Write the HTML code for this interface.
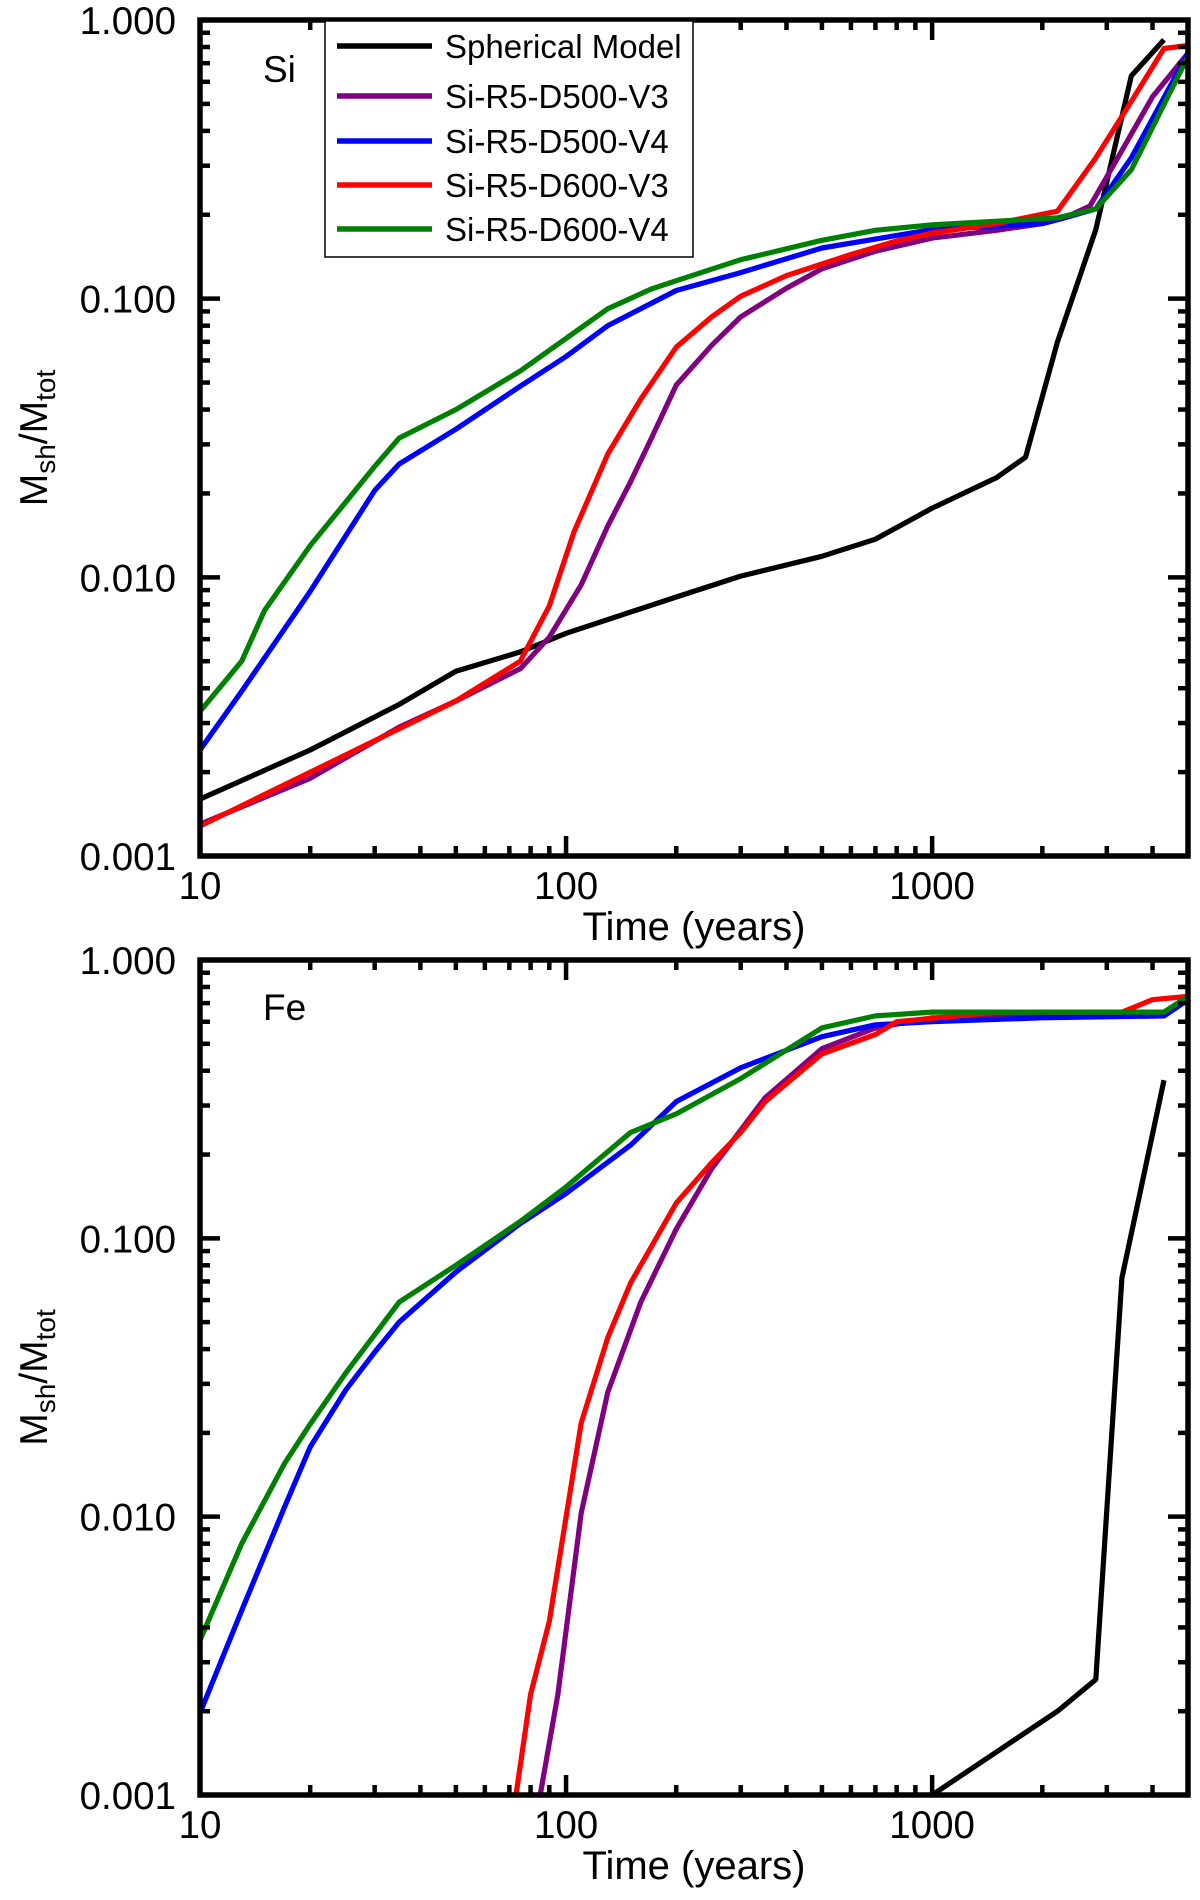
<!DOCTYPE html>
<html><head><meta charset="utf-8"><style>
html,body{margin:0;padding:0;background:#fff;}
svg{display:block;font-family:"Liberation Sans",sans-serif;}
</style></head><body>
<svg id="fig" width="1200" height="1900" viewBox="0 0 1200 1900" xmlns="http://www.w3.org/2000/svg">
<defs>
<clipPath id="clipTop"><rect x="200" y="20" width="988" height="836"/></clipPath>
<clipPath id="clipBot"><rect x="200" y="960" width="988" height="835"/></clipPath>
</defs>
<g id="top"></g>
<g id="bot"></g>
</svg>
<script>
const seriesNames = ["Spherical Model","Si-R5-D500-V3","Si-R5-D500-V4","Si-R5-D600-V3","Si-R5-D600-V4"];
const seriesColors = ["#000000","#800080","#0000ff","#ff0000","#008000"];
const yTickLabels = ["1.000","0.100","0.010","0.001"];
const yTickValues = [1,0.1,0.01,0.001];
const xTickLabels = ["10","100","1000"];
const xTickValues = [10,100,1000];

// Si panel data
const siSphT = [10,20,35,50,75,100,200,300,500,700,1000,1500,1800,2200,2800,3500,4300];
const siSphV = [0.0016,0.0024,0.0035,0.0046,0.0054,0.0063,0.0085,0.0101,0.0119,0.0137,0.0177,0.0228,0.027,0.070,0.177,0.63,0.85];
const siP3T = [10,20,35,50,75,90,110,130,150,170,200,250,300,400,500,700,1000,1500,2000,2300,2700,3300,4000,5000];
const siP3V = [0.0013,0.0019,0.0029,0.0036,0.0047,0.0061,0.0094,0.0153,0.022,0.031,0.049,0.068,0.086,0.109,0.128,0.148,0.165,0.176,0.186,0.195,0.215,0.34,0.53,0.76];
const siB4T = [10,13,20,30,35,50,75,100,130,200,300,500,1000,2000,2300,2800,3500,5000];
const siB4V = [0.0024,0.0039,0.0089,0.0205,0.0255,0.034,0.0485,0.062,0.08,0.107,0.124,0.152,0.177,0.186,0.195,0.21,0.32,0.76];
const siR3T = [10,50,75,90,105,130,160,200,250,300,400,600,800,1000,1500,2200,2800,3500,4300,5000];
const siR3V = [0.00128,0.0036,0.005,0.0079,0.0145,0.0277,0.0436,0.067,0.086,0.102,0.121,0.144,0.161,0.172,0.186,0.206,0.32,0.51,0.79,0.81];
const siG4T = [10,13,15,20,25,30,35,50,75,100,130,170,200,300,500,700,1000,2200,2800,3500,5000];
const siG4V = [0.0033,0.005,0.0076,0.013,0.0186,0.025,0.0316,0.040,0.055,0.072,0.092,0.108,0.116,0.138,0.162,0.176,0.184,0.195,0.21,0.29,0.74];

// Fe panel data
const feSphT = [1000,2200,2800,3300,4300];
const feSphV = [0.001,0.0020,0.0026,0.072,0.37];
const feP3T = [85,95,110,130,160,200,250,350,500,700,1000,4300,5000];
const feP3V = [0.001,0.0023,0.0103,0.028,0.059,0.108,0.178,0.32,0.48,0.57,0.62,0.63,0.72];
const feB4T = [10,13,17,20,25,30,35,50,75,100,150,200,300,500,700,1000,2000,4300,5000];
const feB4V = [0.00197,0.0046,0.0108,0.0178,0.0285,0.039,0.05,0.0757,0.113,0.145,0.216,0.31,0.41,0.53,0.585,0.6,0.62,0.63,0.72];
const feR3T = [73,80,90,110,130,150,200,250,300,350,500,700,800,1500,3300,4000,5000];
const feR3V = [0.001,0.0023,0.0042,0.0217,0.044,0.069,0.134,0.187,0.24,0.31,0.46,0.54,0.6,0.65,0.65,0.72,0.74];
const feG4T = [10,13,17,20,25,35,50,75,100,150,200,300,500,700,1000,4300,5000];
const feG4V = [0.0036,0.008,0.0155,0.0215,0.0328,0.059,0.08,0.115,0.153,0.24,0.28,0.375,0.57,0.63,0.65,0.65,0.74];

const NS = "http://www.w3.org/2000/svg";
function mk(tag, attrs, parent){const e=document.createElementNS(NS,tag);for(const k in attrs)e.setAttribute(k,attrs[k]);parent.appendChild(e);return e;}

const X0=200, X1=1188, XMIN=10, XMAX=5000;
function xScale(t){return X0+(Math.log10(t)-Math.log10(XMIN))/(Math.log10(XMAX)-Math.log10(XMIN))*(X1-X0);}

function drawPanel(g, top, bot, clipId, label, labelY, series){
  const yScale = v => bot + (Math.log10(v)+3)/3*(top-bot);
  const sg = mk('g',{'clip-path':'url(#'+clipId+')'},g);
  series.forEach((s,i)=>{
    const pts = s.t.map((t,j)=>xScale(t).toFixed(1)+','+yScale(s.v[j]).toFixed(1)).join(' ');
    const pl = mk('polyline',{points:pts,fill:'none',stroke:seriesColors[s.c],'stroke-width':5.2,'stroke-linejoin':'round'},sg);
    
    
  });
  const fr = mk('rect',{x:X0,y:top,width:X1-X0,height:bot-top,fill:'none',stroke:'#000','stroke-width':5.5},g);
  
  
  for(let d=-3; d<0; d++){
    for(let m=1;m<=9;m++){
      const v=m*Math.pow(10,d); const y=yScale(v);
      const L = m===1?20:10;
      if(m===1 && d===-3) continue;
      mk('line',{x1:X0,x2:X0+L,y1:y,y2:y,stroke:'#000','stroke-width':4.5},g);
      mk('line',{x1:X1,x2:X1-L,y1:y,y2:y,stroke:'#000','stroke-width':4.5},g);
    }
  }
  for(let d=1; d<=3; d++){
    for(let m=1;m<=9;m++){
      const t=m*Math.pow(10,d); if(t>XMAX||t===10) continue;
      const x=xScale(t); const L=m===1?20:10;
      mk('line',{x1:x,x2:x,y1:bot,y2:bot-L,stroke:'#000','stroke-width':4.5},g);
      mk('line',{x1:x,x2:x,y1:top,y2:top+L,stroke:'#000','stroke-width':4.5},g);
    }
  }
  yTickValues.forEach((v,i)=>{
    const tx = mk('text',{x:176,y:yScale(v)+14,'text-anchor':'end','font-size':38.5},g);
    tx.textContent=yTickLabels[i];
    
    
  });
  xTickValues.forEach((v,i)=>{
    const tx = mk('text',{x:xScale(v),y:bot+43,'text-anchor':'middle','font-size':38.5},g);
    tx.textContent=xTickLabels[i];
    
    
  });
  const xt = mk('text',{x:694,y:bot+84,'text-anchor':'middle','font-size':40},g);
  xt.textContent='Time (years)';
  
  
  const cy=(top+bot)/2;
  const yt = mk('text',{x:0,y:0,'text-anchor':'middle','font-size':39,transform:'translate(47,'+cy+') rotate(-90)'},g);
  
  
  yt.innerHTML='M<tspan font-size="28" dy="8">sh</tspan><tspan dy="-8">/M</tspan><tspan font-size="28" dy="8">tot</tspan>';
  const pl = mk('text',{x:263,y:labelY,'font-size':37},g);
  pl.textContent=label;
  
  
}

drawPanel(document.getElementById('top'),20,856,'clipTop','Si',82,[
  {t:siSphT,v:siSphV,c:0},{t:siP3T,v:siP3V,c:1},{t:siB4T,v:siB4V,c:2},{t:siR3T,v:siR3V,c:3},{t:siG4T,v:siG4V,c:4}]);
drawPanel(document.getElementById('bot'),960,1795,'clipBot','Fe',1020,[
  {t:feSphT,v:feSphV,c:0},{t:feP3T,v:feP3V,c:1},{t:feB4T,v:feB4V,c:2},{t:feR3T,v:feR3V,c:3},{t:feG4T,v:feG4V,c:4}]);

const svg=document.getElementById('fig');
const lg=mk('g',{},svg);


mk('rect',{x:325,y:21,width:368,height:236,fill:'#fff',stroke:'#000','stroke-width':1.5},lg);
const rowY=[46,96,141,185,229];
seriesNames.forEach((n,i)=>{
  const e=mk('g',{},lg);
  
  
  mk('line',{x1:337,x2:432,y1:rowY[i],y2:rowY[i],stroke:seriesColors[i],'stroke-width':5.5},e);
  const t=mk('text',{x:445,y:rowY[i]+12,'font-size':33},e);
  t.textContent=n;
});
</script>
</body></html>
